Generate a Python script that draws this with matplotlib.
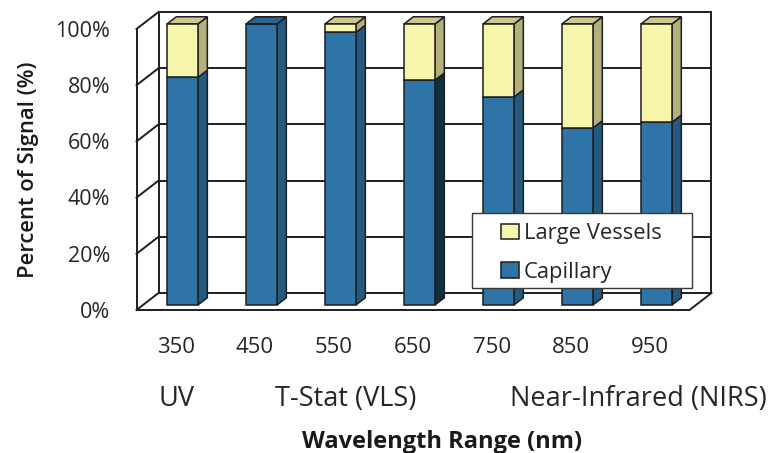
import numpy as np
import matplotlib.pyplot as plt
from matplotlib.patches import Polygon, Rectangle

# data
wavelengths = ['350', '450', '550', '650', '750', '850', '950']
capillary = [81, 100, 97, 80, 74, 63, 65]
large_vessels = [19, 0, 3, 20, 26, 37, 35]
ranges = ['UV', 'T-Stat (VLS)', 'Near-Infrared (NIRS)']
range_pos = [0.0, 2.15, 5.85]
yticks = [0, 20, 40, 60, 80, 100]

plt.rcParams['font.family'] = ['Open Sans', 'DejaVu Sans']

# fake 3d: depth d moves a point right and up
DX, DY = 0.2785, 6.05
d1, d2 = 0.294, 0.72
w = 0.392
edge = '#1e1e1e'
txt = '#262626'
cap_front, cap_side, cap_top = '#2E74A7', '#245A82', '#2A6591'
lv_front, lv_side, lv_top = '#F7F4AC', '#B3B07B', '#CBC78F'
side_dark = ['#245A82', '#245A82', '#245A82', '#10303F', '#245A82', '#245A82', '#245A82']


def proj(x, y, d):
    return (x + d * DX, y + d * DY)


fig = plt.figure(figsize=(7.79, 4.53), dpi=100)
ax = fig.add_axes([0, 0, 1, 1])
ax.set_xlim(-2.228, 7.633)
ax.set_ylim(-50.89, 110.32)
ax.axis('off')

x0, x1 = -0.5, len(wavelengths) - 0.5


def line(p, q, lw=1.4):
    ax.plot([p[0], q[0]], [p[1], q[1]], color=edge, lw=lw, zorder=1,
            solid_capstyle='projecting')


# walls and floor
for v in yticks:
    line(proj(x0, v, 1), proj(x1, v, 1))
    line(proj(x0, v, 0), proj(x0, v, 1))
line(proj(x1, 0, 1), proj(x1, 100, 1))
line(proj(x0, 0, 1), proj(x0, 100, 1))
line(proj(x0, 0, 0), proj(x0, 100, 0))
line(proj(x0, 0, 0), proj(x1, 0, 0))
line(proj(x1, 0, 0), proj(x1, 0, 1))

# bars: front faces
xs = np.arange(len(wavelengths))
cap = np.array(capillary)
lv = np.array(large_vessels)
b_cap = ax.bar(xs + d1 * DX, cap, width=w, bottom=d1 * DY, color=cap_front,
               edgecolor=edge, lw=1.1, zorder=3, label='Capillary')
b_lv = ax.bar(xs + d1 * DX, lv, width=w, bottom=cap + d1 * DY, color=lv_front,
              edgecolor=edge, lw=1.1, zorder=3, label='Large Vessels')

# bars: side and top faces
for i in range(len(wavelengths)):
    xr, xl = i + w / 2, i - w / 2
    segs = [(0, cap[i], side_dark[i])]
    if lv[i] > 0:
        segs.append((cap[i], cap[i] + lv[i], lv_side))
    for y0, y1, c in segs:
        pts = [proj(xr, y0, d1), proj(xr, y0, d2), proj(xr, y1, d2), proj(xr, y1, d1)]
        ax.add_patch(Polygon(pts, closed=True, fc=c, ec=edge, lw=1.1, zorder=2.9))
    top = cap[i] + lv[i]
    pts = [proj(xl, top, d1), proj(xr, top, d1), proj(xr, top, d2), proj(xl, top, d2)]
    ax.add_patch(Polygon(pts, closed=True, fc=lv_top if lv[i] > 0 else cap_top,
                         ec=edge, lw=1.1, zorder=2.9))

# tick labels
for v in yticks:
    ax.text(-0.835, v - 0.8, f'{v}%', ha='right', va='center', fontsize=15.5, color=txt)
for i, lab in enumerate(wavelengths):
    ax.text(i, -13.2, lab, ha='center', va='center', fontsize=16, color=txt)
for p, lab in zip(range_pos, ranges):
    ax.text(p, -31.7, lab, ha='center', va='center', fontsize=19.5, color=txt)

ax.text(3.37, -47, 'Wavelength Range (nm)', ha='center', va='center',
        fontsize=17, fontweight='bold', color='#1a1a1a')
ax.text(-1.873, 49.8, 'Percent of Signal (%)', ha='center', va='center',
        rotation=90, fontsize=15.8, fontweight='semibold', color='#1a1a1a')

# legend with a plain box behind it
ax.add_patch(Rectangle((472 / 779, 1 - 288 / 453), 220 / 779, 75 / 453,
                       transform=fig.transFigure, fc='white', ec='#3a3a3a',
                       lw=1.0, zorder=4.5))
fig.legend(handles=[b_lv, b_cap], labels=['Large Vessels', 'Capillary'],
           loc='upper left', bbox_to_anchor=(501 / 779, 1 - 223 / 453),
           frameon=False, borderaxespad=0, borderpad=0, fontsize=15.8,
           handlelength=0.8, handleheight=0.7, handletextpad=0.25,
           labelspacing=0.8, labelcolor=txt)

fig.savefig('out.png', dpi=100)
